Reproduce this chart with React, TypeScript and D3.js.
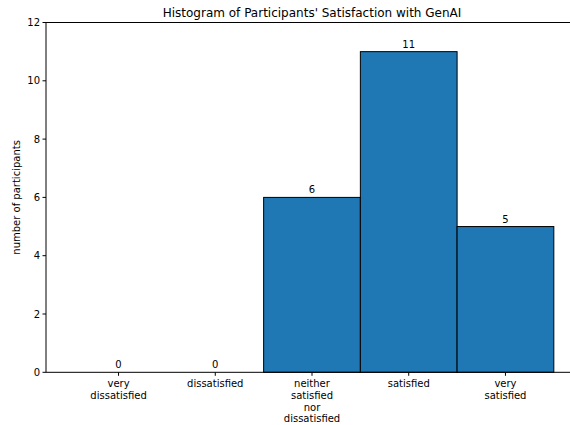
import React from "react";
import * as d3 from "d3";

const categories = ["very\ndissatisfied", "dissatisfied", "neither\nsatisfied\nnor\ndissatisfied", "satisfied", "very\nsatisfied"];
const counts = [0, 0, 6, 11, 5];
const yTicks = [0, 2, 4, 6, 8, 10, 12];
const title = "Histogram of Participants' Satisfaction with GenAI";
const yLabel = "number of participants";

const W = 570, H = 425;
const left = 46, right = 578, top = 22.5, bottom = 372.3;
const font = "DejaVu Sans, sans-serif";

export default function App() {
  const x = d3.scaleLinear().domain([-0.75, categories.length - 0.25]).range([left, right]);
  const y = d3.scaleLinear().domain([0, 12]).range([bottom, top]);
  return (
    <svg width={W} height={H} style={{ position: "absolute", left: 0, top: 0, background: "#fff" }} fontFamily={font}>
      <rect x={0} y={0} width={W} height={H} fill="#fff" />
      {counts.map((c, i) => (
        <g key={i}>
          {c > 0 && (
            <rect x={x(i - 0.5)} y={y(c)} width={x(i + 0.5) - x(i - 0.5)} height={y(0) - y(c)}
              fill="#1f77b4" stroke="#000" strokeWidth={1} />
          )}
          <text x={x(i)} y={y(c) - 4} textAnchor="middle" fontSize={10} fill="#000">{c}</text>
        </g>
      ))}
      {/* spines */}
      <line x1={left} x2={left} y1={top} y2={bottom} stroke="#000" strokeWidth={1} />
      <line x1={left} x2={right} y1={bottom} y2={bottom} stroke="#000" strokeWidth={1} />
      <line x1={left} x2={right} y1={top} y2={top} stroke="#000" strokeWidth={1} />
      <line x1={right} x2={right} y1={top} y2={bottom} stroke="#000" strokeWidth={1} />
      {yTicks.map((t) => (
        <g key={t}>
          <line x1={left - 3.5} x2={left} y1={y(t)} y2={y(t)} stroke="#000" strokeWidth={1} />
          <text x={left - 6} y={y(t)} dy="0.35em" textAnchor="end" fontSize={10} fill="#000">{t}</text>
        </g>
      ))}
      {categories.map((c, i) => (
        <g key={c}>
          <line x1={x(i)} x2={x(i)} y1={bottom} y2={bottom + 3.5} stroke="#000" strokeWidth={1} />
          <text x={x(i)} y={bottom + 15} textAnchor="middle" fontSize={10} fill="#000">
            {c.split("\n").map((l, k) => (
              <tspan key={k} x={x(i)} dy={k === 0 ? 0 : 11.7}>{l}</tspan>
            ))}
          </text>
        </g>
      ))}
      <text transform={`translate(20,${(top + bottom) / 2}) rotate(-90)`} textAnchor="middle" fontSize={10} fill="#000">{yLabel}</text>
      <text x={(left + right) / 2} y={17} textAnchor="middle" fontSize={12} fill="#000">{title}</text>
    </svg>
  );
}
